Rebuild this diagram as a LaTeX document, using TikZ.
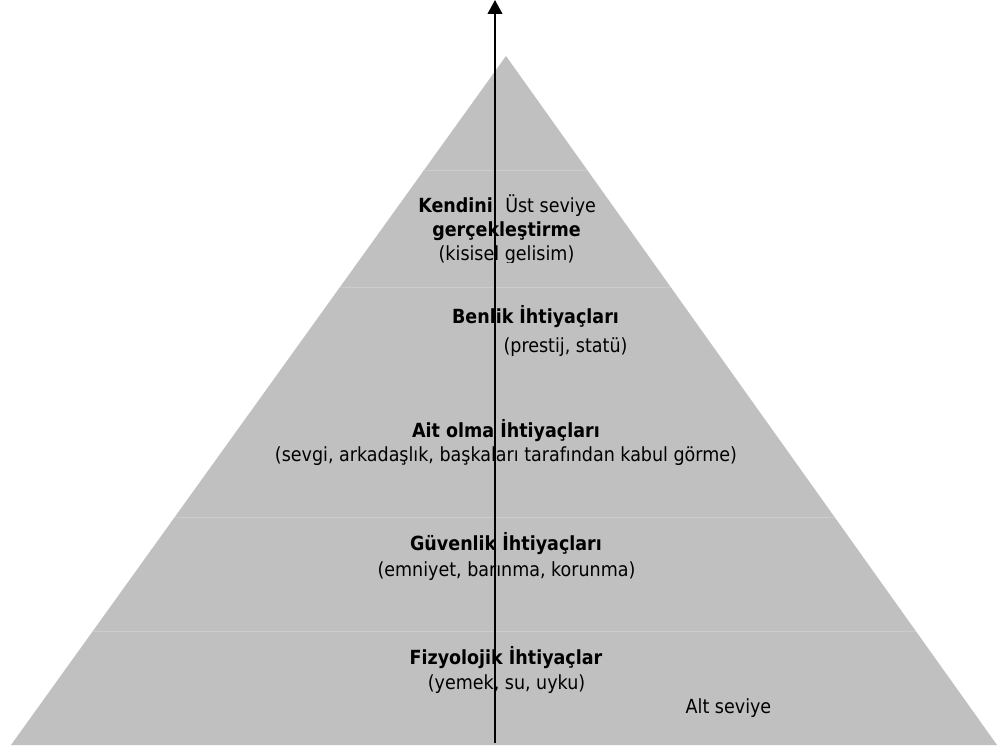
\documentclass[tikz,border=0pt]{standalone}
\usepackage{fontspec}
\setmainfont{DejaVu Sans Condensed}
\usepackage{tikz}
\usetikzlibrary{arrows.meta}
\definecolor{PyramidGray}{RGB}{192,192,192}
\definecolor{PyramidSeam}{RGB}{204,204,204}
\definecolor{PyramidDark}{RGB}{0,0,0}

\begin{document}
\begin{tikzpicture}[x=0.75pt,y=-0.75pt,
    needtitle/.style={font=\bfseries\fontsize{14.6}{17}\selectfont,inner sep=0pt,anchor=base},
    neednote/.style={font=\fontsize{14.6}{17}\selectfont,inner sep=0pt,anchor=base}]
  \useasboundingbox (0,0) rectangle (997,748);
  % the pyramid and its level seams
  \fill[PyramidGray] (11,745) -- (506,56) -- (997,745) -- cycle;
  \begin{scope}
    \clip (11,745) -- (506,56) -- (997,745) -- cycle;
    \foreach \seam in {170,287,517,631}
      \draw[PyramidSeam,line width=0.6pt] (0,\seam) -- (997,\seam);
  \end{scope}
  % levels, top to bottom
  \node[needtitle,anchor=base west] (selftitle) at (418,213) {Kendini};
  \node[neednote,anchor=base west] (toplevel) at (505,213) {Üst seviye};
  \node[needtitle] (selftitleb) at (506.5,237) {gerçekleştirme};
  \begin{scope}
    \clip (0,0) rectangle (997,262.5);
    \node[neednote] (selfnote) at (506.5,261) {(kisisel gelisim)};
  \end{scope}
  \node[needtitle] (esteem) at (535.5,324) {Benlik İhtiyaçları};
  \node[neednote] (esteemnote) at (565.5,353) {(prestij, statü)};
  \node[needtitle] (belong) at (506,438) {Ait olma İhtiyaçları};
  \node[neednote] (belongnote) at (506,462) {(sevgi, arkadaşlık, başkaları tarafından kabul görme)};
  \node[needtitle] (safety) at (506,551) {Güvenlik İhtiyaçları};
  \node[neednote] (safetynote) at (506.5,577) {(emniyet, barınma, korunma)};
  \node[needtitle] (physio) at (506,665) {Fizyolojik İhtiyaçlar};
  \node[neednote] (physionote) at (506.5,690) {(yemek, su, uyku)};
  \node[neednote] (lowlevel) at (728.5,713) {Alt seviye};
  % the upward arrow
  \coordinate (arrowfoot) at (495,743);
  \coordinate (arrowtip) at (495,0);
  \draw[PyramidDark,line width=1.5pt,-{Triangle[length=10.5pt,width=11pt]}] (arrowfoot) -- (arrowtip);
\end{tikzpicture}
\end{document}
